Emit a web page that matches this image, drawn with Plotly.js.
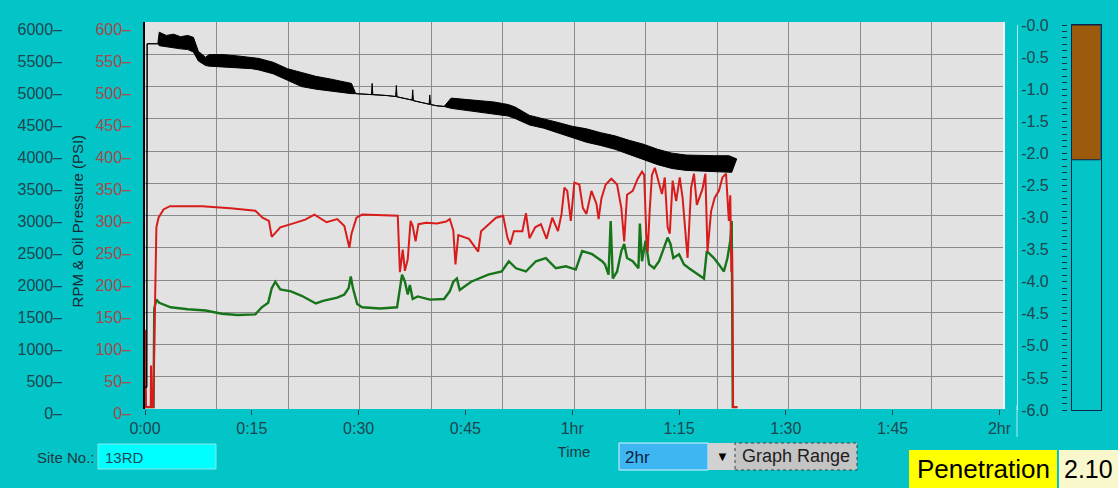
<!DOCTYPE html>
<html><head><meta charset="utf-8">
<script src="https://cdn.plot.ly/plotly-3.0.1.min.js"></script>
<style>html,body{margin:0;padding:0;background:#03c5c8;overflow:hidden}#chart{width:1118px;height:488px}</style>
</head><body><div id="chart"></div>
<script>
// ---------- data ----------
const timeTicks  = [0, 15, 30, 45, 60, 75, 90, 105, 120];
const timeLabels = ["0:00", "0:15", "0:30", "0:45", "1hr", "1:15", "1:30", "1:45", "2hr"];
const psiTicks   = [0, 50, 100, 150, 200, 250, 300, 350, 400, 450, 500, 550, 600];
const psiLabels  = ["0–","50–","100–","150–","200–","250–","300–","350–","400–","450–","500–","550–","600–"];
const rpmTicks   = [0, 500, 1000, 1500, 2000, 2500, 3000, 3500, 4000, 4500, 5000, 5500, 6000];
const rpmLabels  = ["0–","500–","1000–","1500–","2000–","2500–","3000–","3500–","4000–","4500–","5000–","5500–","6000–"];
const depthTicks  = [0, -0.5, -1, -1.5, -2, -2.5, -3, -3.5, -4, -4.5, -5, -5.5, -6];
const depthLabels = ["-0.0","-0.5","-1.0","-1.5","-2.0","-2.5","-3.0","-3.5","-4.0","-4.5","-5.0","-5.5","-6.0"];
const penetration = 2.10;
const siteNo = "13RD";
const graphRange = "2hr";

// RPM (black) – lower / upper envelope of the dense trace, minutes
const blackT = [0,0.25,0.3,1.8,2.0,3.0,4.0,5.0,6.0,6.8,7.5,8.5,9,11,13,15,16,18,20,22,24,26,28,29,29.6,31.5,31.8,31.9,32.0,34,35.2,35.3,35.4,37.5,37.6,37.7,39.9,40.0,40.1,41,42,43,45,47,49,51,52,54,56,58,60,62,64,66,68,70,72,74,76,78,80,82,82.4,83.1];
const blackLow = [400,400,5770,5770,5740,5720,5700,5690,5680,5640,5500,5430,5420,5410,5400,5380,5360,5300,5200,5100,5060,5030,5000,4990,4990,4980,4975,4975,4975,4960,4945,4940,4940,4890,4885,4880,4825,4820,4820,4800,4790,4760,4730,4700,4680,4640,4600,4500,4450,4380,4300,4230,4180,4120,4040,3960,3880,3820,3790,3780,3770,3760,3760,3970];
const blackHigh = [400,400,5770,5770,5950,5900,5920,5880,5900,5870,5650,5560,5600,5600,5580,5560,5540,5480,5380,5320,5260,5220,5180,5150,4990,4980,4975,5150,4975,4960,4945,5120,4940,4890,5050,4880,4825,4970,4820,4800,4790,4920,4900,4880,4860,4820,4780,4650,4600,4540,4480,4440,4380,4330,4260,4200,4120,4060,4030,4020,4020,4020,4000,3970];

// Oil pressure (red), PSI
const redT = [0,0.05,0.15,0.8,0.85,0.95,1.15,1.4,1.6,1.9,
  2.6,3.5,8,12,14,15.5,16.5,17.4,17.8,18.3,
  19,20.5,22.5,23.8,25.5,27,28,28.7,29,29.7,
  30.5,35.5,35.8,36.2,36.5,36.9,37.3,37.6,38,38.4,
  39.5,41,42.3,42.8,43.3,43.6,44,45.5,46.5,46.8,
  47.2,48.3,49.3,50.3,50.9,51.3,51.8,53,53.5,54,
  54.8,55.6,56.4,57.2,58,58.5,58.9,59.3,59.8,60.3,
  61,61.5,62,62.7,63.4,63.7,64.1,64.7,65.5,66.3,
  66.9,67.3,67.7,68.5,69.2,69.8,70.1,70.4,70.6,70.9,
  71.2,71.6,72.1,72.6,73,73.4,73.7,74.1,74.6,75.1,
  75.5,76.2,76.7,77.1,77.5,78.3,78.7,79,79.5,80,
  80.6,81.1,81.6,81.8,82,82.2,82.35,82.45,82.6,83.2];
const redPsi = [9,130,9,9,74,9,9,150,290,305,
  318,323,323,320,318,316,305,300,275,282,
  290,295,302,310,298,303,292,258,280,305,
  310,308,220,255,222,240,300,292,268,295,
  297,296,299,303,285,232,278,272,256,252,
  284,295,305,308,274,263,284,284,312,273,
  290,295,272,305,284,311,352,347,300,360,
  357,320,311,347,327,303,335,357,366,357,
  320,268,341,347,366,377,372,280,252,320,
  372,383,363,342,368,290,280,363,331,368,
  336,242,352,374,325,350,374,252,315,336,
  347,368,374,330,300,340,220,255,9,9];

// second pressure (green), PSI
const greenT = [0,1.2,1.3,1.6,2,3.6,6,8.5,10.8,13,
  15.5,16.4,17.3,17.8,18.3,19,20.5,22,24,25,
  27,28,28.6,28.9,29.2,29.8,30.5,33,35.4,35.8,
  36.1,36.5,36.9,37.2,37.6,38.3,40,42,42.8,43.3,
  43.8,44.2,45.8,48.2,50.1,51.1,52.1,53.5,54.9,56.3,
  57.7,59.1,60.5,61.4,62.8,64.2,64.6,65.1,65.4,65.7,
  66.3,66.9,67.3,67.7,68.5,69.3,69.5,69.8,70.3,70.8,
  71.5,72.2,72.9,73.4,73.8,74.2,75,75.7,76.4,77.1,
  77.8,78.5,78.9,79.9,80.6,81.3,81.8,82.2,82.4,82.55,83.2];
const greenPsi = [9,9,163,177,172,165,162,160,155,153,
  154,165,172,195,205,193,190,183,171,175,
  180,185,195,213,195,170,165,163,165,195,
  216,205,185,200,178,182,177,178,190,205,
  210,192,205,216,221,237,226,221,237,242,
  226,229,224,253,248,237,232,216,300,210,
  221,253,264,242,237,226,296,237,269,232,
  226,237,258,274,264,242,248,232,226,221,
  216,210,253,242,232,221,242,269,300,9,9];

// ---------- layout helpers ----------
const W = 1118, H = 488;
const fx = x => x / W;
const fy = y => 1 - y / H;
const FONT = 'Liberation Sans, Arial, sans-serif';
const TEAL = '#1e4650';
const GRID = '#8a8a8a';
const gridVals = [1,2,3,4,5,6,7,8,9,10,11];

const traces = [
  {x: blackT, y: blackLow, xaxis:'x', yaxis:'y3', mode:'lines', line:{color:'#000', width:1}, hoverinfo:'skip'},
  {x: blackT, y: blackHigh, xaxis:'x', yaxis:'y3', mode:'lines', line:{color:'#000', width:1}, fill:'tonexty', fillcolor:'#000', hoverinfo:'skip'},
  {x: greenT, y: greenPsi, xaxis:'x', yaxis:'y', mode:'lines', line:{color:'#17741a', width:2.4}, hoverinfo:'skip'},
  {x: redT, y: redPsi, xaxis:'x', yaxis:'y', mode:'lines', line:{color:'#d81c1c', width:2}, hoverinfo:'skip'},
  {x: [], y: [], xaxis:'x2', yaxis:'y2', hoverinfo:'skip'},
  {x: [], y: [], xaxis:'x', yaxis:'y4', hoverinfo:'skip'},
  {x: [], y: [], xaxis:'x', yaxis:'y5', hoverinfo:'skip'},
  {type:'bar', x:[0], y:[-penetration], width:[1], xaxis:'x4', yaxis:'y8',
   marker:{color:'#9c5a0c', line:{color:'#0c2448', width:1}}, hoverinfo:'skip'},
  {x: [], y: [], xaxis:'x4', yaxis:'y6', hoverinfo:'skip'},
  {x: [], y: [], xaxis:'x4', yaxis:'y7', hoverinfo:'skip'}
];

function rect(x0,y0,x1,y1,fill,line,dash){
  return {type:'rect', xref:'paper', yref:'paper', x0:fx(x0), x1:fx(x1), y0:fy(y1), y1:fy(y0),
    fillcolor:fill, line:{color:line||fill, width: line?1:0, dash: dash||'solid'}, layer:'above'};
}
function label(x,y,text,size,color,xanchor){
  return {xref:'paper', yref:'paper', x:fx(x), y:fy(y), text:text, showarrow:false,
    xanchor:xanchor||'center', yanchor:'middle', font:{family:FONT, size:size, color:color}};
}

const layout = {
  width: W, height: H,
  margin: {l:0, r:0, t:0, b:0, pad:0},
  paper_bgcolor: '#03c5c8',
  plot_bgcolor: 'rgba(0,0,0,0)',
  showlegend: false,
  font: {family: FONT, size: 16, color: TEAL},
  xaxis: {domain:[fx(145), fx(1003)], range:[0,120.5], anchor:'y', tickmode:'array',
    tickvals: timeTicks, ticktext: timeLabels, ticks:'outside', ticklen:5, tickwidth:1, tickcolor:TEAL,
    showgrid:false, zeroline:false, showline:false, tickfont:{size:16, color:TEAL},
    title:{text:'Time', font:{size:15, color:'#1e3a44'}, standoff:10}},
  yaxis: {domain:[fy(409), fy(22)], range:[6,611], anchor:'x', showline:true, linecolor:'#000', linewidth:2,
    showticklabels:false, ticks:'', showgrid:false, zeroline:false},
  yaxis3: {overlaying:'y', range:[60,6110], visible:false},
  xaxis2: {overlaying:'x', anchor:'y2', range:[0,12], tickmode:'array', tickvals:gridVals, showgrid:true,
    gridcolor:GRID, gridwidth:1, showticklabels:false, ticks:'', zeroline:false, showline:false},
  yaxis2: {overlaying:'y', anchor:'x2', range:[0,12], tickmode:'array', tickvals:gridVals, showgrid:true,
    gridcolor:GRID, gridwidth:1, showticklabels:false, ticks:'', zeroline:false, side:'right',
    showline:true, linecolor:'#f4f4f4', linewidth:2},
  yaxis4: {domain:[fy(413), fy(29.3)], range:[0,600], anchor:'free', position:fx(131), side:'left',
    tickmode:'array', tickvals:psiTicks, ticktext:psiLabels, ticks:'', showgrid:false, zeroline:false,
    showline:false, tickfont:{size:16, color:'#a04c4c'},
    title:{text:'RPM & Oil Pressure (PSI)', font:{size:15, color:'#1a2a34'}, standoff:7}},
  yaxis5: {domain:[fy(413), fy(29.3)], range:[0,6000], anchor:'free', position:fx(62), side:'left',
    tickmode:'array', tickvals:rpmTicks, ticktext:rpmLabels, ticks:'', showgrid:false, zeroline:false,
    showline:false, tickfont:{size:16, color:TEAL}},
  xaxis4: {domain:[fx(1071.5), fx(1100.5)], range:[-0.5,0.5], anchor:'y8', showline:true, mirror:true,
    linecolor:'#0c2448', linewidth:1, ticks:'', showticklabels:false, showgrid:false, zeroline:false},
  yaxis8: {domain:[fy(410), fy(25)], range:[-6,0], anchor:'x4', showline:true, mirror:true,
    linecolor:'#0c2448', linewidth:1, ticks:'', showticklabels:false, showgrid:false, zeroline:false},
  yaxis6: {overlaying:'y8', anchor:'free', position:fx(1017), side:'right', range:[-6,0],
    tickmode:'array', tickvals:depthTicks, ticktext:depthLabels, ticks:'', showline:true,
    linecolor:'#a6eef2', linewidth:1, showgrid:false, zeroline:false, tickfont:{size:16, color:TEAL}},
  yaxis7: {overlaying:'y8', anchor:'free', position:fx(1067), side:'left', range:[-6,0],
    tick0:0, dtick:0.1, ticks:'outside', ticklen:5, tickwidth:1, tickcolor:'#1e3a40',
    showticklabels:false, showline:false, showgrid:false, zeroline:false},
  shapes: [
    {type:'rect', xref:'x domain', yref:'y domain', x0:0, x1:1, y0:0, y1:1, fillcolor:'#e2e2e2', line:{width:0}, layer:'below'},
    {type:'line', xref:'paper', yref:'paper', x0:fx(1017), x1:fx(1017), y0:fy(405), y1:fy(437), line:{color:'#a6eef2', width:1}},
    rect(98,444,216,469,'#00ffff','#8ae6ec'),
    rect(619,443,708,470,'#3db6f2','#d8f4ff'),
    rect(708,443,735,470,'#d2d2d2'),
    rect(735,443,857,470,'#c4c4c4','#404040','dot'),
    rect(909,450,1057,488,'#ffff00'),
    rect(1059,450,1118,488,'#f8f8cc')
  ],
  annotations: [
    label(66,457,'Site No.:',15,'#1e3a40'),
    label(103,457,siteNo,15,'#1a4a5a','left'),
    label(623,457,graphRange,17,'#102040','left'),
    label(722,456,'▼',13,'#000'),
    label(796,456,'Graph Range',18,'#202020'),
    label(983,469,'Penetration',26,'#000'),
    label(1088,469,penetration.toFixed(2),25,'#000')
  ]
};

Plotly.newPlot('chart', traces, layout, {staticPlot:true, displayModeBar:false});
</script></body></html>
